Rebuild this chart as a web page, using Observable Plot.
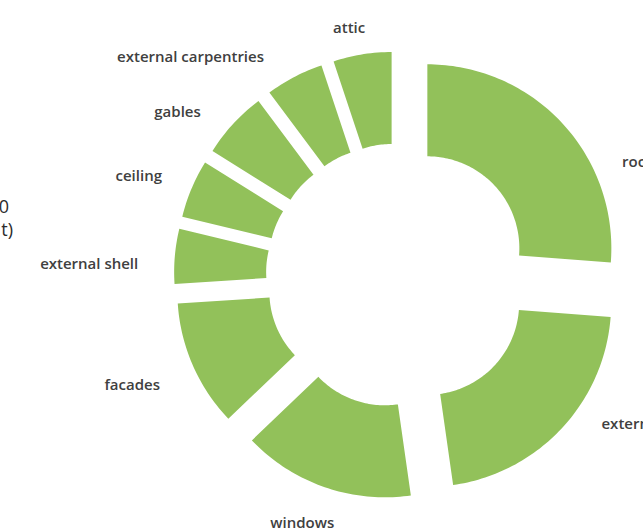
<!DOCTYPE html>
<html>
<head>
<meta charset="utf-8">
<script src="https://cdn.jsdelivr.net/npm/d3@7"></script>
<script src="https://cdn.jsdelivr.net/npm/@observablehq/plot@0.6"></script>
<style>
  html, body { margin: 0; padding: 0; background: #ffffff; }
  #wrap { position: relative; width: 643px; height: 532px; overflow: hidden; }
  .side { position: absolute; font-family: "Open Sans", sans-serif; font-size: 18px; color: #2b2b2b; white-space: nowrap; text-align: right; }
</style>
</head>
<body>
<div id="wrap">
  <div class="side" style="right: 634px; top: 194px;">0</div>
  <div class="side" style="right: 630px; top: 217px;">t)</div>
</div>
<script>
// Data (share of the ring, clockwise from 12 o'clock)
const categories = ["roof", "external walls", "windows", "facades", "external shell", "ceiling", "gables", "external carpentries", "attic"];
const shares = [26.2, 21.5, 15.1, 11.1, 4.8, 5.1, 5.9, 5.1, 5.1];

// Layout (pixels / degrees)
const W = 643, H = 532;
const CX = 397.5, CY = 275, R_OUT = 184, R_IN = 92, EXPLODE = 40, R_LABEL = 256;
// label placement tweaks: [angle offset in degrees, radial offset in pixels]
const labelNudge = {
  "roof": [16, -5],
  "external walls": [-7, -4],
  "windows": [2, 10],
  "facades": [-1, 6],
  "external shell": [-2.5, 4],
  "gables": [-3, 0],
  "external carpentries": [-4, 0],
  "attic": [-2, -4]
};
const k = R_OUT; // pixels per unit

const rows = categories.map((c, i) => ({cat: c, share: shares[i]}));
const arcs = d3.pie().sort(null).value(d => d.share)(rows);

const ri = R_IN / k, ro = 1, ex = EXPLODE / k;
const pts = [];
const labels = [];
for (const a of arcs) {
  const mid = (a.startAngle + a.endAngle) / 2;
  const ox = ex * Math.sin(mid), oy = ex * Math.cos(mid);
  const n = Math.max(10, Math.ceil((a.endAngle - a.startAngle) / 0.02));
  for (let j = 0; j <= n; j++) {
    const t = a.startAngle + (a.endAngle - a.startAngle) * j / n;
    pts.push({cat: a.data.cat, x: ox + ro * Math.sin(t), y: oy + ro * Math.cos(t)});
  }
  for (let j = n; j >= 0; j--) {
    const t = a.startAngle + (a.endAngle - a.startAngle) * j / n;
    pts.push({cat: a.data.cat, x: ox + ri * Math.sin(t), y: oy + ri * Math.cos(t)});
  }
  const [dDeg, dR] = labelNudge[a.data.cat] || [0, 0];
  const la = mid + dDeg * Math.PI / 180;
  const rl = (R_LABEL + dR) / k;
  const s = Math.sin(la);
  labels.push({
    cat: a.data.cat,
    x: rl * Math.sin(la),
    y: rl * Math.cos(la),
    anchor: s > 0.45 ? "start" : s < -0.45 ? "end" : "middle"
  });
}

const textStyle = {fontSize: 15, fontWeight: 600, fill: "#404040"};
const chart = Plot.plot({
  width: W,
  height: H,
  margin: 0,
  style: {fontFamily: "'Open Sans', sans-serif", background: "transparent"},
  x: {domain: [-CX / k, (W - CX) / k], axis: null},
  y: {domain: [-(H - CY) / k, CY / k], axis: null},
  marks: [
    Plot.line(pts, {x: "x", y: "y", z: "cat", fill: "#92c15a", stroke: "none", curve: "linear-closed"}),
    Plot.text(labels.filter(d => d.anchor === "start"), {x: "x", y: "y", text: "cat", textAnchor: "start", ...textStyle}),
    Plot.text(labels.filter(d => d.anchor === "end"), {x: "x", y: "y", text: "cat", textAnchor: "end", ...textStyle}),
    Plot.text(labels.filter(d => d.anchor === "middle"), {x: "x", y: "y", text: "cat", textAnchor: "middle", ...textStyle})
  ]
});
chart.style.position = "absolute";
chart.style.left = "0px";
chart.style.top = "0px";
document.getElementById("wrap").prepend(chart);
</script>
</body>
</html>
